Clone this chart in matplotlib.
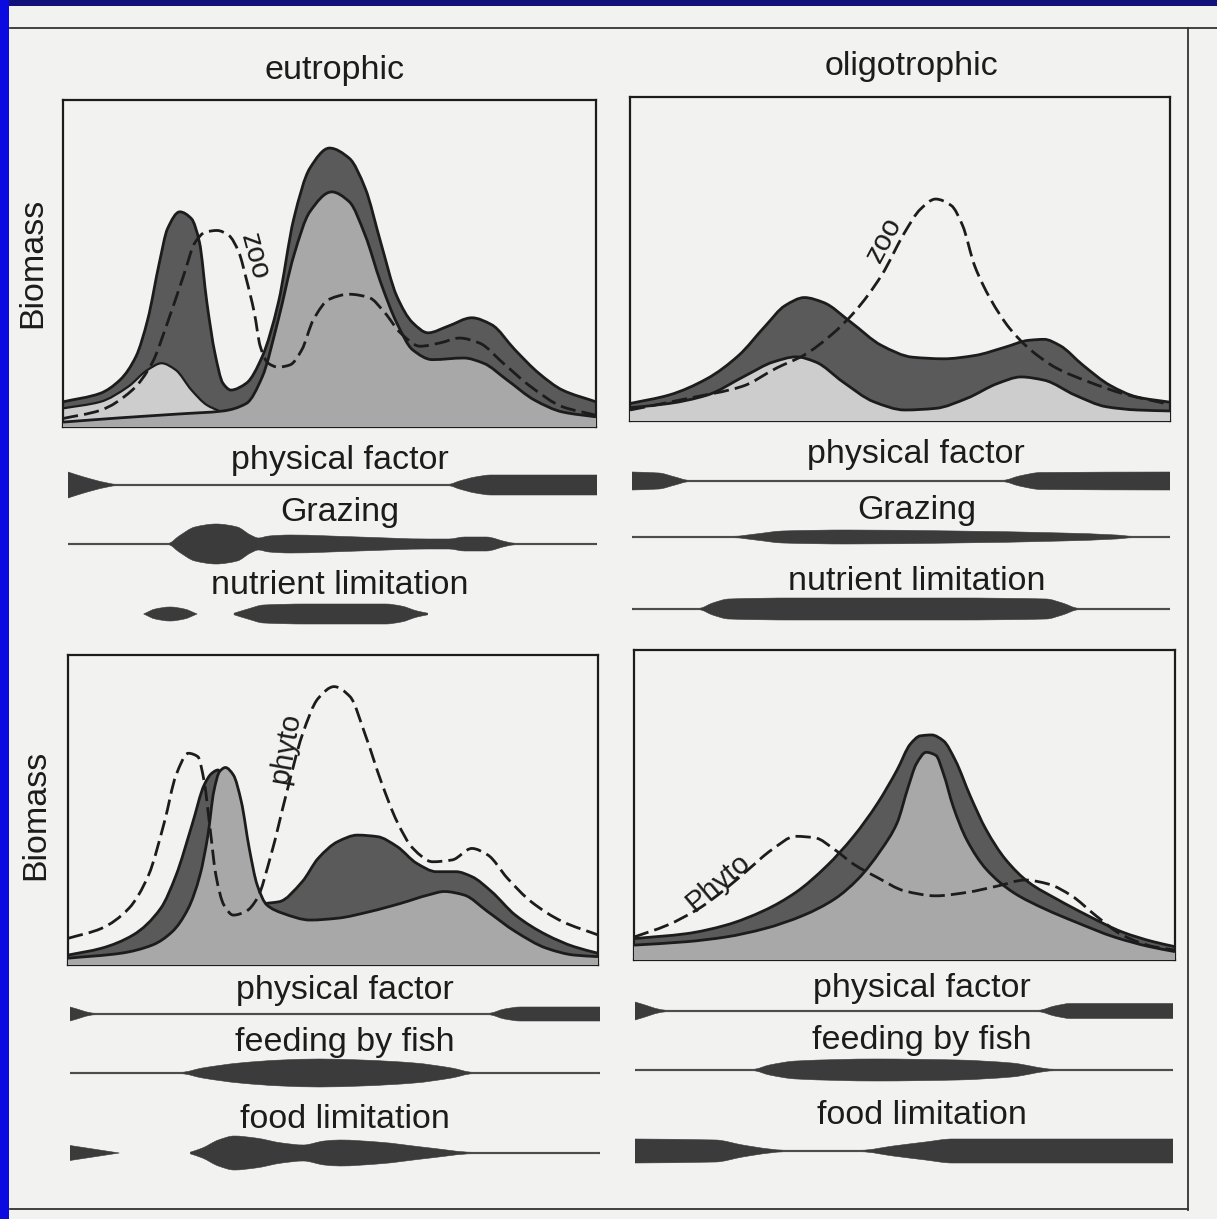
import matplotlib
matplotlib.use("Agg")
import numpy as np
import matplotlib.pyplot as plt
from matplotlib.patches import Rectangle, PathPatch
from matplotlib.path import Path

plt.rcParams["font.family"] = ["Liberation Sans", "DejaVu Sans"]

W, H = 1217, 1219
PAPER = "#f2f2f0"
DARK = "#5a5a5a"
MID = "#a8a8a8"
LIGHT = "#cdcdcd"
INK = "#1c1c1c"
BAND = "#3b3b3b"

# ── curve data: (season fraction, biomass fraction of box height) ─────────────

# eutrophic, zooplankton panel
TL_OUTER = [(0.0, 0.077), (0.07, 0.103), (0.107, 0.144), (0.137, 0.216), (0.159, 0.329),
            (0.181, 0.504), (0.196, 0.606), (0.219, 0.658), (0.241, 0.637), (0.256, 0.565),
            (0.27, 0.38), (0.285, 0.226), (0.3, 0.134), (0.315, 0.113), (0.344, 0.134),
            (0.374, 0.216), (0.404, 0.38), (0.433, 0.637), (0.463, 0.791), (0.5, 0.853),
            (0.537, 0.822), (0.567, 0.73), (0.596, 0.565), (0.626, 0.401), (0.656, 0.319),
            (0.685, 0.288), (0.722, 0.308), (0.767, 0.334), (0.804, 0.313), (0.848, 0.236),
            (0.893, 0.164), (0.937, 0.113), (1.0, 0.077)]
TL_INNER = [(0.0, 0.015), (0.107, 0.028), (0.219, 0.04), (0.3, 0.049), (0.344, 0.072),
            (0.374, 0.154), (0.404, 0.329), (0.433, 0.524), (0.463, 0.658), (0.504, 0.719),
            (0.537, 0.689), (0.567, 0.586), (0.596, 0.442), (0.626, 0.319), (0.656, 0.236),
            (0.693, 0.206), (0.752, 0.211), (0.789, 0.195), (0.833, 0.144), (0.885, 0.082),
            (0.937, 0.046), (1.0, 0.031)]
TL_LIGHT = [(0.0, 0.057), (0.07, 0.077), (0.122, 0.123), (0.159, 0.175), (0.185, 0.195),
            (0.211, 0.175), (0.241, 0.113), (0.27, 0.067), (0.293, 0.049)]
TL_ZOO = [(0.0, 0.026), (0.07, 0.051), (0.13, 0.113), (0.167, 0.195), (0.196, 0.319),
          (0.226, 0.462), (0.248, 0.565), (0.267, 0.596), (0.289, 0.601), (0.311, 0.586),
          (0.33, 0.534), (0.344, 0.452), (0.359, 0.349), (0.37, 0.247), (0.385, 0.195),
          (0.404, 0.183), (0.426, 0.19), (0.448, 0.236), (0.47, 0.329), (0.5, 0.391),
          (0.537, 0.406), (0.574, 0.396), (0.604, 0.349), (0.633, 0.288), (0.67, 0.247),
          (0.707, 0.257), (0.744, 0.272), (0.781, 0.257), (0.826, 0.195), (0.878, 0.123),
          (0.937, 0.062), (1.0, 0.036)]

# oligotrophic, zooplankton panel
TR_OUTER = [(0.0, 0.054), (0.072, 0.08), (0.143, 0.131), (0.201, 0.202), (0.251, 0.294),
            (0.287, 0.356), (0.323, 0.381), (0.358, 0.366), (0.409, 0.305), (0.466, 0.233),
            (0.523, 0.197), (0.581, 0.192), (0.638, 0.202), (0.695, 0.228), (0.738, 0.249),
            (0.767, 0.252), (0.796, 0.233), (0.839, 0.172), (0.889, 0.11), (0.939, 0.074),
            (1.0, 0.058)]
TR_INNER = [(0.0, 0.041), (0.072, 0.054), (0.143, 0.08), (0.215, 0.141), (0.265, 0.182),
            (0.308, 0.198), (0.344, 0.182), (0.394, 0.121), (0.452, 0.059), (0.509, 0.034),
            (0.566, 0.039), (0.624, 0.07), (0.681, 0.116), (0.724, 0.136), (0.767, 0.126),
            (0.824, 0.08), (0.882, 0.044), (0.939, 0.034), (1.0, 0.031)]
TR_ZOO = [(0.0, 0.034), (0.108, 0.07), (0.208, 0.107), (0.272, 0.164), (0.323, 0.204),
          (0.373, 0.266), (0.416, 0.337), (0.466, 0.45), (0.509, 0.583), (0.538, 0.654),
          (0.566, 0.685), (0.595, 0.665), (0.616, 0.603), (0.638, 0.48), (0.667, 0.378),
          (0.703, 0.286), (0.738, 0.225), (0.789, 0.164), (0.846, 0.123), (0.918, 0.082),
          (1.0, 0.051)]

# eutrophic, fish panel
BL_OUTER = [(0.0, 0.032), (0.063, 0.054), (0.123, 0.097), (0.175, 0.183), (0.204, 0.29),
            (0.234, 0.452), (0.257, 0.581), (0.271, 0.618), (0.283, 0.629), (0.309, 0.398),
            (0.338, 0.247), (0.368, 0.199), (0.398, 0.204), (0.442, 0.269), (0.472, 0.344),
            (0.509, 0.398), (0.546, 0.419), (0.584, 0.414), (0.621, 0.382), (0.658, 0.328),
            (0.695, 0.301), (0.732, 0.301), (0.762, 0.285), (0.799, 0.237), (0.844, 0.161),
            (0.903, 0.097), (0.955, 0.059), (1.0, 0.038)]
BL_INNER = [(0.0, 0.022), (0.1, 0.038), (0.16, 0.065), (0.197, 0.108), (0.227, 0.183),
            (0.249, 0.29), (0.264, 0.419), (0.275, 0.559), (0.286, 0.624), (0.297, 0.637),
            (0.312, 0.613), (0.327, 0.527), (0.342, 0.376), (0.357, 0.258), (0.375, 0.194),
            (0.405, 0.167), (0.457, 0.145), (0.509, 0.151), (0.569, 0.172), (0.628, 0.199),
            (0.68, 0.226), (0.71, 0.237), (0.747, 0.226), (0.792, 0.172), (0.844, 0.108),
            (0.903, 0.054), (0.955, 0.032), (1.0, 0.027)]
BL_PHYTO = [(0.0, 0.086), (0.063, 0.118), (0.115, 0.183), (0.152, 0.29), (0.182, 0.462),
            (0.204, 0.613), (0.227, 0.683), (0.245, 0.672), (0.257, 0.591), (0.268, 0.441),
            (0.279, 0.29), (0.294, 0.194), (0.312, 0.161), (0.335, 0.172), (0.357, 0.215),
            (0.383, 0.355), (0.413, 0.559), (0.442, 0.742), (0.472, 0.86), (0.502, 0.898),
            (0.532, 0.866), (0.561, 0.742), (0.591, 0.591), (0.621, 0.462), (0.651, 0.376),
            (0.688, 0.333), (0.725, 0.339), (0.762, 0.376), (0.792, 0.355), (0.829, 0.28),
            (0.874, 0.204), (0.933, 0.14), (1.0, 0.097)]

# oligotrophic, fish panel
BR_OUTER = [(0.0, 0.069), (0.097, 0.085), (0.169, 0.112), (0.241, 0.16), (0.299, 0.218),
            (0.356, 0.303), (0.406, 0.399), (0.45, 0.505), (0.486, 0.612), (0.511, 0.697),
            (0.529, 0.723), (0.55, 0.726), (0.572, 0.707), (0.594, 0.644), (0.622, 0.527),
            (0.651, 0.42), (0.687, 0.324), (0.73, 0.25), (0.781, 0.197), (0.838, 0.144),
            (0.903, 0.09), (0.96, 0.059), (1.0, 0.043)]
BR_INNER = [(0.0, 0.048), (0.097, 0.059), (0.169, 0.074), (0.241, 0.101), (0.313, 0.144),
            (0.371, 0.197), (0.414, 0.261), (0.457, 0.356), (0.486, 0.441), (0.507, 0.559),
            (0.522, 0.633), (0.54, 0.67), (0.558, 0.66), (0.572, 0.601), (0.59, 0.495),
            (0.615, 0.388), (0.651, 0.293), (0.701, 0.218), (0.759, 0.165), (0.817, 0.122),
            (0.888, 0.074), (0.953, 0.043), (1.0, 0.027)]
BR_PHYTO = [(0.0, 0.074), (0.061, 0.112), (0.119, 0.165), (0.169, 0.229), (0.212, 0.293),
            (0.255, 0.356), (0.299, 0.399), (0.335, 0.394), (0.371, 0.356), (0.406, 0.309),
            (0.45, 0.266), (0.5, 0.223), (0.558, 0.207), (0.615, 0.218), (0.673, 0.239),
            (0.723, 0.258), (0.766, 0.245), (0.809, 0.207), (0.853, 0.144), (0.903, 0.08),
            (0.96, 0.043), (1.0, 0.032)]

# ── factor bands: (season fraction, half thickness in px), one list per piece ─

TL_PHYS = [[(0.0, 13), (0.03, 8), (0.07, 2.5), (0.09, 0.8), (0.72, 0.8), (0.74, 4),
            (0.77, 8), (0.8, 10), (1.0, 10)]]
TL_GRAZ = [[(0.0, 0.8), (0.19, 0.8), (0.21, 8), (0.24, 17), (0.28, 20), (0.32, 17),
            (0.345, 9), (0.36, 6), (0.38, 8), (0.42, 9), (0.55, 7), (0.68, 5), (0.72, 5),
            (0.75, 7), (0.79, 7), (0.83, 2), (0.845, 0.8), (1.0, 0.8)]]
TL_NUTR = [[(0.143, 0), (0.165, 5), (0.193, 7), (0.22, 5), (0.244, 0)],
           [(0.314, 0.8), (0.34, 5), (0.37, 9), (0.45, 10), (0.6, 10), (0.63, 8), (0.66, 3),
            (0.68, 0.8)]]

TR_PHYS = [[(0.0, 9), (0.05, 8), (0.08, 4), (0.105, 0.8), (0.69, 0.8), (0.72, 5),
            (0.76, 8.5), (1.0, 9)]]
TR_GRAZ = [[(0.0, 0.8), (0.19, 0.8), (0.23, 3), (0.28, 6), (0.4, 7), (0.6, 6), (0.8, 4),
            (0.9, 2), (0.93, 0.8), (1.0, 0.8)]]
TR_NUTR = [[(0.0, 0.8), (0.125, 0.8), (0.15, 6), (0.18, 10), (0.3, 11), (0.6, 11),
            (0.77, 10), (0.8, 6), (0.83, 0.8), (1.0, 0.8)]]

BL_PHYS = [[(0.0, 7), (0.048, 0.8), (0.79, 0.8), (0.82, 5), (0.85, 7), (1.0, 7)]]
BL_FISH = [[(0.0, 0.8), (0.21, 0.8), (0.25, 5), (0.32, 10), (0.4, 13), (0.47, 14),
            (0.55, 13), (0.65, 10), (0.72, 5), (0.76, 0.8), (1.0, 0.8)]]
BL_FOOD = [[(0.0, 7.5), (0.093, 0)],
           [(0.227, 0.8), (0.25, 5), (0.28, 13), (0.31, 17), (0.35, 15), (0.4, 10),
            (0.44, 8), (0.48, 12), (0.51, 13), (0.58, 11), (0.68, 5), (0.76, 0.8), (1.0, 0.8)]]

BR_PHYS = [[(0.0, 9), (0.06, 0.8), (0.75, 0.8), (0.78, 5), (0.81, 7.5), (1.0, 7.5)]]
BR_FISH = [[(0.0, 0.8), (0.22, 0.8), (0.25, 5), (0.3, 9), (0.45, 11), (0.6, 10),
            (0.7, 7), (0.78, 0.8), (1.0, 0.8)]]
BR_FOOD = [[(0.0, 12), (0.15, 11), (0.2, 6), (0.25, 2), (0.277, 0.8), (0.42, 0.8),
            (0.48, 5), (0.54, 9), (0.59, 12), (1.0, 12)]]


def rect(x0, y0, x1, y1):
    return [x0 / W, 1 - y1 / H, (x1 - x0) / W, (y1 - y0) / H]


def bezier(pts):
    """Smooth (monotone cubic) path segments through the read points."""
    p = np.asarray(pts, dtype=float)
    x, y = p[:, 0], p[:, 1]
    h = np.diff(x)
    d = np.diff(y) / h
    m = np.empty(len(x))
    m[0], m[-1] = d[0], d[-1]
    for i in range(1, len(x) - 1):
        if d[i - 1] * d[i] <= 0:
            m[i] = 0.0
        else:
            w1, w2 = 2 * h[i] + h[i - 1], h[i] + 2 * h[i - 1]
            m[i] = (w1 + w2) / (w1 / d[i - 1] + w2 / d[i])
    verts = []
    for i in range(len(x) - 1):
        verts += [(x[i] + h[i] / 3, y[i] + m[i] * h[i] / 3),
                  (x[i + 1] - h[i] / 3, y[i + 1] - m[i + 1] * h[i] / 3),
                  (x[i + 1], y[i + 1])]
    return p[0], verts


def curve_path(pts):
    start, verts = bezier(pts)
    return Path([start] + verts, [Path.MOVETO] + [Path.CURVE4] * len(verts))


def area_path(pts):
    start, verts = bezier(pts)
    allv = [start] + verts + [(pts[-1][0], 0), (pts[0][0], 0), start]
    codes = ([Path.MOVETO] + [Path.CURVE4] * len(verts)
             + [Path.LINETO, Path.LINETO, Path.CLOSEPOLY])
    return Path(allv, codes)


def band_path(seg):
    s1, v1 = bezier(seg)
    # lower edge runs right-to-left: build it on mirrored x, then flip back
    s2, v2 = bezier([(-a, -b) for a, b in seg[::-1]])
    v2 = [(-a, b) for a, b in v2]
    s2 = (-s2[0], s2[1])
    allv = [s1] + v1 + [s2] + v2 + [s1]
    codes = ([Path.MOVETO] + [Path.CURVE4] * len(v1) + [Path.LINETO]
             + [Path.CURVE4] * len(v2) + [Path.CLOSEPOLY])
    return Path(allv, codes)


def draw_panel(box, outer, inner, dashed, under, label, lpos, lrot, light=None):
    ax = fig.add_axes(rect(*box), zorder=2)
    ax.set_xlim(0, 1)
    ax.set_ylim(0, 1)
    ax.set_facecolor("none")
    ax.set_xticks([])
    ax.set_yticks([])
    for s in ax.spines.values():
        s.set_linewidth(1.6)
        s.set_color(INK)

    ax.add_patch(PathPatch(area_path(outer), fc=DARK, lw=0, zorder=1))
    ax.add_patch(PathPatch(curve_path(outer), fill=False, ec=INK, lw=2, zorder=2))
    if light is not None:
        ax.add_patch(PathPatch(area_path(light), fc=LIGHT, lw=0, zorder=2.5))
        ax.add_patch(PathPatch(curve_path(light), fill=False, ec=INK, lw=1.6, zorder=5))
    ax.add_patch(PathPatch(area_path(inner), fc=under, lw=0, zorder=3))
    ax.add_patch(PathPatch(curve_path(inner), fill=False, ec=INK, lw=2, zorder=5))
    ax.add_patch(PathPatch(curve_path(dashed), fill=False, ec=INK, lw=2,
                           ls=(0, (5.5, 2.2)), zorder=6))
    ax.text(lpos[0], lpos[1], label, rotation=lrot, fontsize=21, ha="center",
            va="center", color=INK, zorder=7, rotation_mode="anchor")
    return ax


def draw_band(x0, x1, yc, segs):
    ax = fig.add_axes(rect(x0, yc - 25, x1, yc + 25), zorder=2)
    ax.set_xlim(0, 1)
    ax.set_ylim(-25, 25)
    ax.axis("off")
    for seg in segs:
        ax.add_patch(PathPatch(band_path(seg), fc=BAND, ec=BAND, lw=0.4))


fig = plt.figure(figsize=(W / 100, H / 100), dpi=100, facecolor=PAPER)

bg = fig.add_axes([0, 0, 1, 1], zorder=0)
bg.set_xlim(0, W)
bg.set_ylim(H, 0)
bg.axis("off")
bg.add_patch(Rectangle((0, 0), W, 6, color="#12127a", lw=0))
bg.add_patch(Rectangle((0, 0), 9, H, color="#0b0be0", lw=0))
bg.plot([10, W], [28, 28], color="#333333", lw=1.3)
bg.plot([1188, 1188], [28, 1210], color="#333333", lw=1.3)
bg.plot([10, 1188], [1209, 1209], color="#333333", lw=1.3)

txt = dict(fontsize=24.5, ha="center", va="center", color=INK)
bg.text(335, 70, "eutrophic", **txt)
bg.text(912, 67, "oligotrophic", **txt)
bg.text(33, 263, "Biomass", rotation=90, **txt)
bg.text(36, 815, "Biomass", rotation=90, **txt)

draw_panel((63, 100, 596, 427), TL_OUTER, TL_INNER, TL_ZOO, MID, "zoo",
           (0.36, 0.52), -75, light=TL_LIGHT)
draw_panel((630, 97, 1170, 421), TR_OUTER, TR_INNER, TR_ZOO, LIGHT, "zoo",
           (0.47, 0.56), 62)
draw_panel((68, 655, 598, 965), BL_OUTER, BL_INNER, BL_PHYTO, MID, "phyto",
           (0.41, 0.70), 80)
draw_panel((634, 650, 1175, 960), BR_OUTER, BR_INNER, BR_PHYTO, MID, "Phyto",
           (0.155, 0.25), 40)

bands = [
    (68, 597, 485, 460, 340, "physical factor", TL_PHYS),
    (68, 597, 544, 513, 340, "Grazing", TL_GRAZ),
    (68, 597, 614, 586, 340, "nutrient limitation", TL_NUTR),
    (632, 1170, 481, 455, 916, "physical factor", TR_PHYS),
    (632, 1170, 537, 511, 917, "Grazing", TR_GRAZ),
    (632, 1170, 609, 582, 917, "nutrient limitation", TR_NUTR),
    (70, 600, 1014, 991, 345, "physical factor", BL_PHYS),
    (70, 600, 1073, 1042, 345, "feeding by fish", BL_FISH),
    (70, 600, 1153, 1119, 345, "food limitation", BL_FOOD),
    (635, 1173, 1011, 988, 922, "physical factor", BR_PHYS),
    (635, 1173, 1070, 1041, 922, "feeding by fish", BR_FISH),
    (635, 1173, 1151, 1116, 922, "food limitation", BR_FOOD),
]
for x0, x1, yc, ty, tx, name, segs in bands:
    draw_band(x0, x1, yc, segs)
    bg.text(tx, ty, name, **txt)

fig.savefig("out.png", dpi=100, facecolor=PAPER)
